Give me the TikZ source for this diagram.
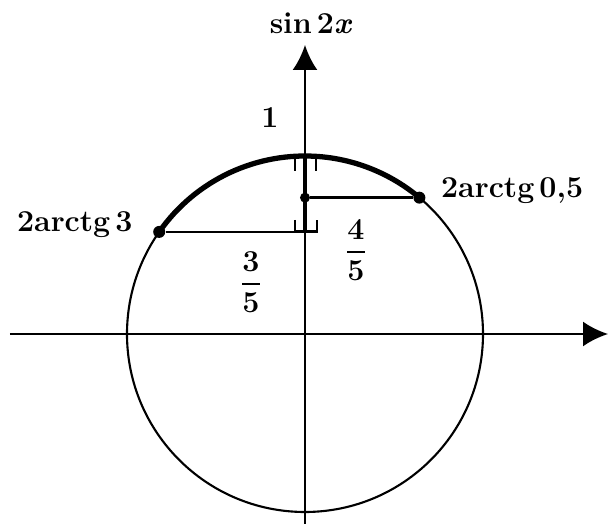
\documentclass[tikz,border=0pt]{standalone}
\usepackage{amsmath}
\usepackage{tikz}
\usetikzlibrary{arrows.meta, positioning}
\tikzstyle{axis} = [line width=1.4pt, -{Latex[length=5mm,width=5mm]}]
\tikzstyle{dot} = [circle, fill=black, inner sep=0pt, minimum size=2.4mm]
\tikzstyle{lbl} = [font=\LARGE\bfseries, inner sep=0pt]
\tikzstyle{bracket} = [line width=1.6pt]

\begin{document}
\begin{tikzpicture}
\def\R{3.56}
\useasboundingbox (-6.1,-3.8) rectangle (6.08,6.68);
\coordinate (O) at (0,0);
\coordinate (xl) at (-5.9,0);
\coordinate (xr) at (6.06,0);
\coordinate (yb) at (0,-3.8);
\coordinate (yt) at (0,5.78);
\coordinate (T) at (0,\R);

\draw[axis] (xl) -- (xr);
\draw[axis] (yb) -- (yt);
\draw[line width=1.2pt] (O) circle (\R);

% thick arc between the two points
\draw[line width=3pt] (145:\R) arc[start angle=145, end angle=50, radius=\R];

\node[dot] (A) at (145:\R) {};
\node[dot] (B) at (50:\R) {};
\coordinate (Ay) at (0,{\R*sin(145)});
\node[dot, minimum size=2mm] (By) at (0,{\R*sin(50)}) {};

\draw[line width=1.3pt] (A) -- (Ay);
\draw[line width=1.3pt] (B) -- (By);
\draw[line width=2.8pt] (Ay) -- (T);

% brackets of the range
\draw[bracket] ([shift={(-0.2,-0.3)}]T) |- ([xshift=2.2mm]T) -- ++(0,-0.3);
\draw[bracket] ([shift={(-0.2,0.24)}]Ay) |- ([xshift=2.4mm]Ay) -- ++(0,0.24);

\node[lbl, left=4mm of A, anchor=base east] (labA) {2arctg\,3};
\node[lbl, right=3mm of B, anchor=base west] (labB) {2arctg\,0,5};
\node[lbl] (one) at (-0.7,4.32) {1};
\node[lbl] (siny) at (0.12,6.22) {sin\,2\textit{x}};
\node[lbl] (frA) at (-1.08,1.04) {$\dfrac{\mathbf{3}}{\mathbf{5}}$};
\node[lbl] (frB) at (1.02,1.68) {$\dfrac{\mathbf{4}}{\mathbf{5}}$};
\end{tikzpicture}
\end{document}
